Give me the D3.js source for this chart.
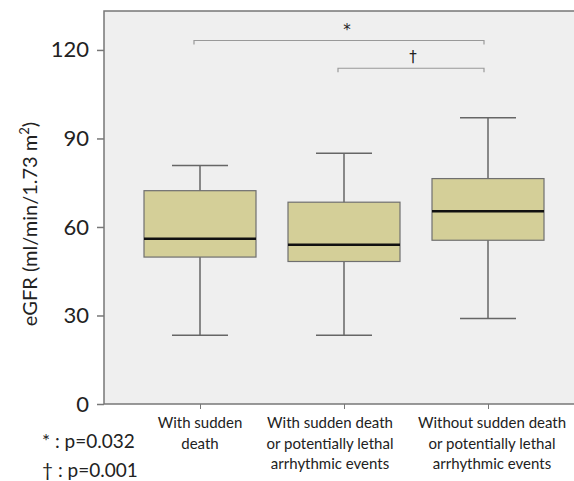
<!DOCTYPE html>
<html>
<head>
<meta charset="utf-8">
<script src="https://cdn.jsdelivr.net/npm/d3@7"></script>
<style>
  body { margin: 0; background: #fff; }
  text { font-family: Lato, "Open Sans", sans-serif; fill: #222; }
</style>
</head>
<body>
<div class="svg-container"></div>
<script>
var groups = [
  ["With sudden", "death"],
  ["With sudden death", "or potentially lethal", "arrhythmic events"],
  ["Without sudden death", "or potentially lethal", "arrhythmic events"]
];
var whiskerLow = [23.3, 23.3, 29.0];
var q1 = [49.8, 48.3, 55.5];
var median = [56.0, 54.0, 65.3];
var q3 = [72.3, 68.4, 76.4];
var whiskerHigh = [80.8, 85.0, 97.0];
var yTicks = [0, 30, 60, 90, 120];
// brackets: [from group, to group, value, symbol]
var brackets = [[0, 2, 123.2, "*"], [1, 2, 113.8, "\u2020"]];
var notes = ["* : p=0.032", "\u2020 : p=0.001"];

var width = 574, height = 481;
var plot = {left: 104, right: 574, top: 11, bottom: 404};
var labelShift = [0, -14, 4]; // labels are not quite centred under ticks

var svg = d3.select(".svg-container").append("svg")
  .attr("width", width).attr("height", height);

var x = d3.scalePoint().domain(d3.range(groups.length))
  .range([128, 560]).padding(0.5);
var y = d3.scaleLinear().domain([0, 133.2]).range([plot.bottom, plot.top]);
var boxW = 112, capW = 56;

svg.append("rect")
  .attr("x", plot.left).attr("y", plot.top)
  .attr("width", plot.right - plot.left).attr("height", plot.bottom - plot.top)
  .attr("fill", "#efefef");

// frame lines (left, top)
svg.append("path")
  .attr("d", `M${plot.right},${plot.top}H${plot.left}V${plot.bottom}`)
  .attr("fill", "none").attr("stroke", "#777").attr("stroke-width", 1.5);

var yAxis = svg.append("g").attr("transform", `translate(${plot.left},0)`)
  .call(d3.axisLeft(y).tickValues(yTicks).tickSize(7).tickPadding(8));
yAxis.select(".domain").remove();
yAxis.selectAll("line").attr("stroke", "#777").attr("stroke-width", 1.5);
yAxis.selectAll("text").style("font-size", "22px").attr("fill", "#222")
  .style("font-family", "Lato, sans-serif");

var xAxis = svg.append("g").attr("transform", `translate(0,${plot.bottom})`)
  .call(d3.axisBottom(x).tickSize(5).tickFormat(""));
xAxis.select(".domain").attr("d", `M${plot.left},0H${plot.right}`)
  .attr("stroke", "#777").attr("stroke-width", 1.5);
xAxis.selectAll("line").attr("stroke", "#777");

// category labels
var lab = svg.append("g").selectAll("text").data(groups).join("text")
  .attr("x", (d, i) => x(i) + labelShift[i]).attr("y", 428)
  .attr("text-anchor", "middle").style("font-size", "15px");
lab.selectAll("tspan").data(d => d).join("tspan")
  .attr("x", function() { return this.parentNode.getAttribute("x"); })
  .attr("dy", (d, i) => i === 0 ? 0 : 20.5)
  .text(d => d);

// boxes
var box = svg.append("g").selectAll("g").data(groups).join("g");
box.append("line")
  .attr("x1", (d, i) => x(i)).attr("x2", (d, i) => x(i))
  .attr("y1", (d, i) => y(whiskerLow[i])).attr("y2", (d, i) => y(whiskerHigh[i]))
  .attr("stroke", "#666").attr("stroke-width", 1.5);
box.selectAll(".cap").data((d, i) => [[i, whiskerLow[i]], [i, whiskerHigh[i]]]).join("line")
  .attr("x1", d => x(d[0]) - capW / 2).attr("x2", d => x(d[0]) + capW / 2)
  .attr("y1", d => y(d[1])).attr("y2", d => y(d[1]))
  .attr("stroke", "#666").attr("stroke-width", 1.5);
box.append("rect")
  .attr("x", (d, i) => x(i) - boxW / 2).attr("width", boxW)
  .attr("y", (d, i) => y(q3[i])).attr("height", (d, i) => y(q1[i]) - y(q3[i]))
  .attr("fill", "#d4cf98").attr("stroke", "#6f6f6f").attr("stroke-width", 1.2);
box.append("line")
  .attr("x1", (d, i) => x(i) - boxW / 2).attr("x2", (d, i) => x(i) + boxW / 2)
  .attr("y1", (d, i) => y(median[i])).attr("y2", (d, i) => y(median[i]))
  .attr("stroke", "#111").attr("stroke-width", 2.5);

// significance brackets
var br = svg.append("g").selectAll("g").data(brackets).join("g");
br.append("path")
  .attr("d", d => {
    var x0 = x(d[0]) - 6, x1 = x(d[1]) - 4, yy = y(d[2]);
    return `M${x0},${yy + 4}V${yy}H${x1}V${yy + 4}`;
  })
  .attr("fill", "none").attr("stroke", "#999").attr("stroke-width", 1.2);
br.append("text")
  .attr("x", d => d[1] - d[0] === 2 ? x(1) + 3 : (x(d[0]) + x(d[1])) / 2 - 3)
  .attr("y", d => y(d[2]) - 6)
  .attr("text-anchor", "middle").style("font-size", "15px")
  .style("font-family", "'DejaVu Sans', sans-serif").style("fill", "#222")
  .text(d => d[3]);

// y label
svg.append("text")
  .attr("transform", "translate(37,224) rotate(-90)")
  .attr("text-anchor", "middle").style("font-size", "20px")
  .html("eGFR (ml/min/1.73 m<tspan dy='-8' style='font-size:13px'>2</tspan><tspan dy='8'>)</tspan>");

// footnotes
svg.append("g").selectAll("text").data(notes).join("text")
  .attr("x", 42).attr("y", (d, i) => 448 + i * 29)
  .style("font-size", "19px")
  .text(d => d);
</script>
</body>
</html>
